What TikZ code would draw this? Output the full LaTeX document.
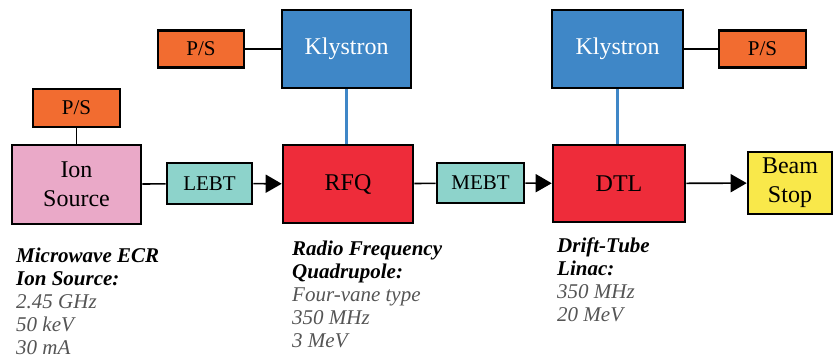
\documentclass[tikz,border=0pt]{standalone}
\usepackage{fontspec}
\setmainfont{Liberation Serif}
\usetikzlibrary{arrows.meta}
\definecolor{pinkbox}{HTML}{EAA9C8}
\definecolor{psorange}{HTML}{F26C30}
\definecolor{tealbox}{HTML}{8DD3CB}
\definecolor{redbox}{HTML}{EE2C3A}
\definecolor{bluebox}{HTML}{3F87C7}
\definecolor{yellowbox}{HTML}{F9E84A}
\definecolor{detailgray}{HTML}{555555}
\tikzset{
  blk/.style={draw=black, line width=2.6pt, inner sep=0pt, align=center, font=\rmfamily\fontsize{24}{29}\selectfont},
  small/.style={blk, font=\rmfamily\fontsize{21}{24}\selectfont},
  conn/.style={draw=black, line width=1.6pt},
  arr/.style={conn, -{Triangle[length=16pt,width=18pt]}},
  rfline/.style={draw=bluebox, line width=3.5pt},
  note/.style={anchor=base west, inner sep=0pt, align=left, font=\rmfamily\fontsize{21}{23}\selectfont}
}
\begin{document}
\begin{tikzpicture}[x=1pt,y=-1pt]
\useasboundingbox (0,0) rectangle (836,362);
% nodes
\node[blk, fill=pinkbox, minimum width=129pt, minimum height=79pt] (ion) at (76.5,184.5) {Ion\\Source};
\node[small, fill=psorange, minimum width=87pt, minimum height=38pt] (ps1) at (76.5,108) {P/S};
\node[small, fill=tealbox, minimum width=85pt, minimum height=41pt] (lebt) at (209.5,183.5) {LEBT};
\node[blk, fill=redbox, minimum width=130pt, minimum height=78pt] (rfq) at (348,184) {RFQ};
\node[small, fill=tealbox, minimum width=87pt, minimum height=40pt] (mebt) at (480.5,183) {MEBT};
\node[blk, fill=redbox, minimum width=132pt, minimum height=77pt] (dtl) at (619,183.5) {DTL};
\node[blk, fill=yellowbox, minimum width=84pt, minimum height=62pt] (stop) at (790,183) {Beam\\Stop};
\node[blk, fill=bluebox, text=white, minimum width=129pt, minimum height=78pt] (kly1) at (346.5,49) {Klystron};
\node[small, fill=psorange, minimum width=86pt, minimum height=37pt] (ps2) at (201,49) {P/S};
\node[blk, fill=bluebox, text=white, minimum width=131pt, minimum height=78pt] (kly2) at (617.5,49) {Klystron};
\node[small, fill=psorange, minimum width=87pt, minimum height=37pt] (ps3) at (762.5,49) {P/S};
% connectors
\draw[conn] (ps1) -- (ion);
\draw[conn] (ion) -- (lebt);
\draw[arr] (lebt) -- (rfq);
\draw[conn] (rfq) -- (mebt);
\draw[arr] (mebt) -- (dtl);
\draw[arr] (dtl) -- (stop);
\draw[conn] (ps2) -- (kly1);
\draw[conn] (kly2) -- (ps3);
\draw[rfline] (kly1.south) -- (kly1.south |- rfq.north);
\draw[rfline] (kly2.south) -- (kly2.south |- dtl.north);
% notes (anchored at the baseline of their last line)
\node[note] (n1) at (16,354) {\textbf{\textit{Microwave ECR}}\\\textbf{\textit{Ion Source:}}\\\textcolor{detailgray}{\textit{2.45 GHz}}\\\textcolor{detailgray}{\textit{50 keV}}\\\textcolor{detailgray}{\textit{30 mA}}};
\node[note] (n2) at (292,347) {\textbf{\textit{Radio Frequency}}\\\textbf{\textit{Quadrupole:}}\\\textcolor{detailgray}{\textit{Four-vane type}}\\\textcolor{detailgray}{\textit{350 MHz}}\\\textcolor{detailgray}{\textit{3 MeV}}};
\node[note] (n3) at (557,321) {\textbf{\textit{Drift-Tube}}\\\textbf{\textit{Linac:}}\\\textcolor{detailgray}{\textit{350 MHz}}\\\textcolor{detailgray}{\textit{20 MeV}}};
\end{tikzpicture}
\end{document}
